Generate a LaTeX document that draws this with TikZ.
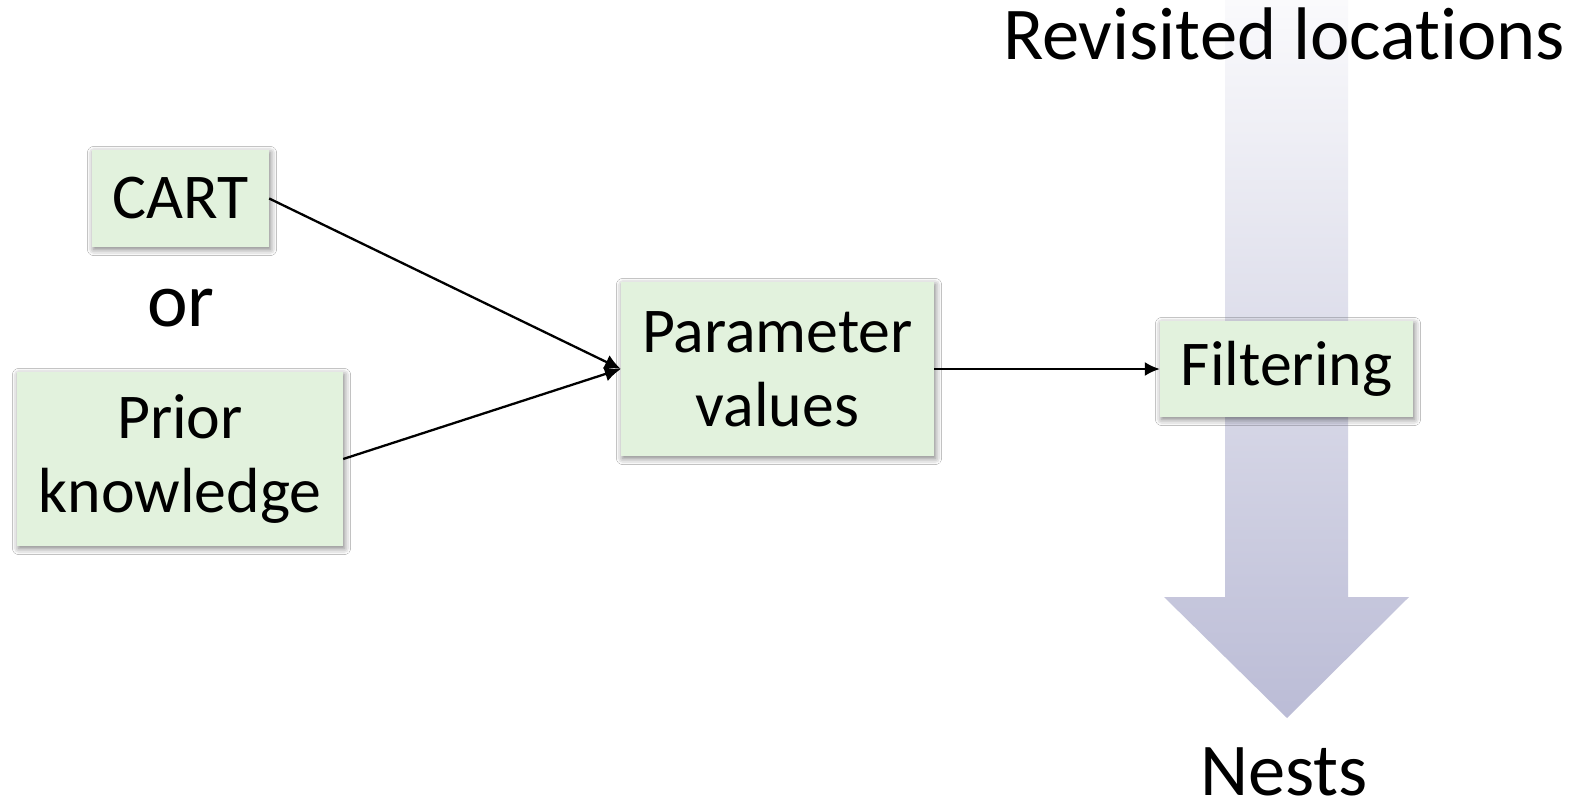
\documentclass[tikz,border=0pt]{standalone}
\usepackage{fontspec}
\setmainfont{Carlito}[RawFeature={-liga}]
\usetikzlibrary{arrows.meta,shadows.blur}
\definecolor{boxfill}{HTML}{E2F2DD}
\definecolor{flowtop}{HTML}{FAFAFC}
\definecolor{flowbot}{HTML}{BBBCD6}
\tikzset{
  stepbox/.style={draw=none, fill=boxfill, align=center, inner sep=0pt,
    font=\fontsize{63.8}{74}\selectfont,
    blur shadow={shadow xshift=1.5pt, shadow yshift=-2.5pt, shadow blur radius=6pt,
      shadow blur extra rounding=0pt, shadow opacity=50}},
  biglabel/.style={anchor=base, inner sep=0pt, font=\fontsize{74.5}{84}\selectfont},
  link/.style={line width=2.3pt, -{Latex[length=16pt,width=15pt]}},
  linksmall/.style={line width=2.1pt, -{Latex[length=15pt,width=14pt]}}
}
\begin{document}
\begin{tikzpicture}[x=1pt,y=-1pt]
\useasboundingbox (0,0) rectangle (1576,802);
\fill[white] (0,0) rectangle (1576,802);

% wide downward arrow behind the filtering step
\shade[top color=flowtop, bottom color=flowbot]
  (1225,0) -- (1348,0) -- (1348,597) -- (1409,597) -- (1287,718)
  -- (1164,597) -- (1225,597) -- cycle;

\node[biglabel] (revisited) at (1284,60) {Revisited locations};
\node[biglabel] (nests) at (1284,795) {Nests};

% steps
\node[stepbox, minimum width=177pt, minimum height=97pt] (cart) at (180.5,198.5) {CART};
\node[anchor=base, inner sep=0pt, font=\fontsize{77}{84}\selectfont] (or) at (181,326) {or};
\node[stepbox, minimum width=326pt, minimum height=174pt] (prior) at (180,459) {Prior\\knowledge};
\node[stepbox, minimum width=313pt, minimum height=174pt] (param) at (777.5,369) {Parameter\\values};
\node[stepbox, minimum width=253pt, minimum height=96pt] (filter) at (1286.5,369) {Filtering};

% connectors
\draw[link] (cart.east) -- (param.west);
\draw[link] (prior.east) -- (param.west);
\draw[linksmall] (param.east) -- (filter.west);
\end{tikzpicture}
\end{document}
